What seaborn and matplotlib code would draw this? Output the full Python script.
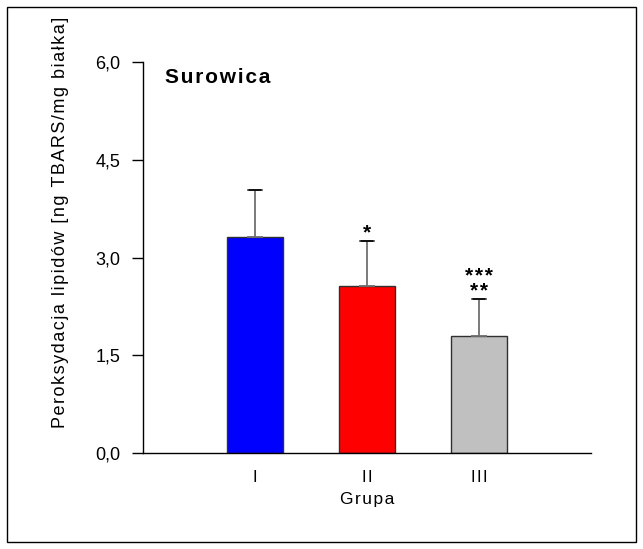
import pandas as pd
import matplotlib
matplotlib.use("Agg")
import matplotlib.pyplot as plt
import seaborn as sns
from matplotlib.patches import Rectangle

# Data
groups = ["I", "II", "III"]
means = [3.32, 2.57, 1.79]
sd = [0.71, 0.68, 0.57]
colors = ["#0000FF", "#FF0000", "#C0C0C0"]
stars = ["", "*", "***\n**"]
yticks = [0.0, 1.5, 3.0, 4.5, 6.0]
ytick_labels = ["0,0", "1,5", "3,0", "4,5", "6,0"]


def spaced(s):
    # imitate the wide letter spacing of the original
    return "\u200a".join(s)


df = pd.DataFrame({"Grupa": groups, "val": means})

sns.set_style("white")
plt.rcParams["font.family"] = ["Liberation Sans", "DejaVu Sans"]
for k in ["text.color", "axes.labelcolor", "xtick.color", "ytick.color"]:
    plt.rcParams[k] = "black"

fig = plt.figure(figsize=(6.43, 5.49), dpi=100)
ax = fig.add_axes([0.2224, 0.1749, 0.919 - 0.2224, 0.887 - 0.1749])

sns.barplot(data=df, x="Grupa", y="val", hue="Grupa", palette=colors,
            width=0.5, edgecolor="#303030", linewidth=1, saturation=1,
            legend=False, ax=ax)

# one-sided error bars
pos = list(range(len(groups)))
ax.errorbar(pos, means, yerr=[[0] * len(sd), sd], fmt="none",
            ecolor="#707070", elinewidth=1.3, capsize=5.5, capthick=1.3,
            zorder=1)
for x, m, s in zip(pos, means, sd):
    ax.plot([x - 0.05, x + 0.05], [m + s, m + s], color="black", lw=1.2)

for x, m, s, t in zip(pos, means, sd, stars):
    if t:
        lines = [spaced(l) for l in t.split("\n")]
        ax.text(x, m + s + 0.04, "\n".join(lines), ha="center",
                va="baseline", fontsize=15, fontweight="bold",
                linespacing=0.72, multialignment="center")

ax.set_xlim(-1, 3)
ax.set_ylim(0, 6)
ax.set_xticks(pos)
ax.set_xticklabels([spaced(g) for g in groups], fontsize=12)
ax.set_yticks(yticks)
ax.set_yticklabels(ytick_labels, fontsize=13)
ax.tick_params(axis="y", direction="out", length=8, width=1, left=True,
               pad=8.5)
ax.tick_params(axis="x", length=0, pad=12)
for sp in ["top", "right"]:
    ax.spines[sp].set_visible(False)
for sp in ["left", "bottom"]:
    ax.spines[sp].set_color("black")
    ax.spines[sp].set_linewidth(1)

ax.set_xlabel(spaced("Grupa"), fontsize=12.5, labelpad=5)
ax.set_ylabel(spaced("Peroksydacja lipidów [ng TBARS/mg białka]"),
              fontsize=13)
ax.yaxis.set_label_coords(-0.165, 0.59)

ax.text(0.05, 0.96, spaced("Surowica"), transform=ax.transAxes,
        fontsize=15, fontweight="bold", ha="left", va="center")

# outer frame
fig.patches.append(Rectangle((7 / 643, 7 / 549), 629 / 643, 535 / 549,
                             transform=fig.transFigure, fill=False,
                             edgecolor="black", lw=1))

fig.savefig("out.png", dpi=100)
